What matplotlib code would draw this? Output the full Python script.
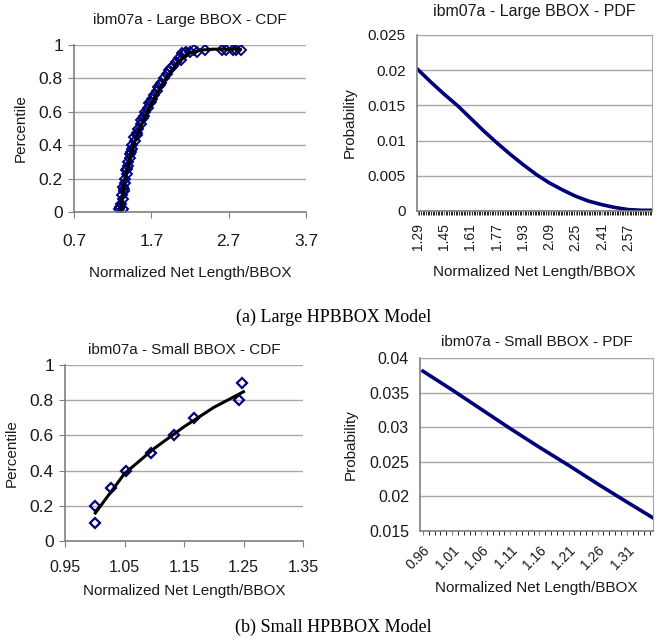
import numpy as np
import matplotlib
matplotlib.use('Agg')
import matplotlib.pyplot as plt
from matplotlib.ticker import FixedLocator, FixedFormatter

plt.rcParams['font.family'] = ['Liberation Sans', 'DejaVu Sans']

# --- (a) Large BBOX, CDF: measured points and fitted curve
large_cdf_x = [1.28, 1.33, 1.31, 1.33, 1.32, 1.35, 1.34, 1.36, 1.36, 1.38, 1.37, 1.40,
               1.40, 1.42, 1.42, 1.45, 1.45, 1.49, 1.48, 1.52, 1.53, 1.56, 1.57, 1.61,
               1.62, 1.66, 1.67, 1.71, 1.73, 1.77, 1.79, 1.83, 1.86, 1.90, 1.93, 1.98,
               2.02, 2.06, 2.10, 2.15, 2.20, 2.25, 2.40, 2.62, 2.67, 2.75, 2.80, 2.86,
               1.30, 1.35, 1.39, 1.44, 1.51, 1.59, 1.69, 1.81, 1.96, 2.08, 2.13, 2.29]
large_cdf_y = [0.02, 0.02, 0.05, 0.075, 0.10, 0.125, 0.15, 0.175, 0.20, 0.225, 0.25, 0.275,
               0.30, 0.325, 0.35, 0.375, 0.40, 0.425, 0.45, 0.475, 0.50, 0.525, 0.55, 0.575,
               0.60, 0.625, 0.65, 0.675, 0.70, 0.725, 0.75, 0.775, 0.80, 0.825, 0.85, 0.875,
               0.90, 0.925, 0.95, 0.96, 0.96, 0.97, 0.97, 0.97, 0.97, 0.97, 0.97, 0.97,
               0.03, 0.14, 0.26, 0.36, 0.46, 0.56, 0.66, 0.76, 0.86, 0.91, 0.95, 0.96]
large_fit_x = [1.30, 1.33, 1.36, 1.41, 1.47, 1.55, 1.65, 1.76, 1.89, 2.05, 2.18, 2.35, 2.50, 2.85]
large_fit_y = [0.00, 0.10, 0.20, 0.30, 0.40, 0.50, 0.60, 0.70, 0.80, 0.90, 0.95, 0.97, 0.975, 0.975]

# --- (a) Large BBOX, PDF
large_pdf_x = [1.29, 1.37, 1.45, 1.53, 1.61, 1.69, 1.77, 1.85, 1.93, 2.01, 2.09, 2.17,
               2.25, 2.33, 2.41, 2.49, 2.57, 2.65, 2.71]
large_pdf_y = [0.0201, 0.0183, 0.0166, 0.0150, 0.0132, 0.0114, 0.0097, 0.0081, 0.0066,
               0.0052, 0.0040, 0.0030, 0.0021, 0.0014, 0.0009, 0.0005, 0.0002, 0.0001, 0.0001]
large_pdf_labels = ['1.29', '1.45', '1.61', '1.77', '1.93', '2.09', '2.25', '2.41', '2.57']

# --- (b) Small BBOX, CDF
small_cdf_x = [1.000, 1.001, 1.028, 1.052, 1.095, 1.134, 1.167, 1.243, 1.248]
small_cdf_y = [0.1, 0.2, 0.3, 0.4, 0.5, 0.6, 0.7, 0.8, 0.9]
small_fit_x = [1.001, 1.05, 1.10, 1.15, 1.20, 1.25]
small_fit_y = [0.159, 0.383, 0.526, 0.649, 0.759, 0.848]

# --- (b) Small BBOX, PDF
small_pdf_x = [0.96, 1.01, 1.06, 1.11, 1.16, 1.21, 1.26, 1.31, 1.355]
small_pdf_y = [0.0381, 0.0354, 0.0326, 0.0298, 0.0271, 0.0245, 0.0218, 0.0192, 0.0169]
small_pdf_labels = ['0.96', '1.01', '1.06', '1.11', '1.16', '1.21', '1.26', '1.31']

W, H = 667, 644
fig = plt.figure(figsize=(W / 100, H / 100), dpi=100)


def px_axes(left, top, right, bottom):
    # axes from pixel box (origin top-left)
    return fig.add_axes([left / W, 1 - bottom / H, (right - left) / W, (bottom - top) / H])


def excel_style(ax, box=False):
    ax.set_facecolor('white')
    ax.yaxis.grid(True, color='#a8a8a8', linewidth=1)
    ax.set_axisbelow(True)
    for s in ['top', 'right']:
        ax.spines[s].set_visible(box)
        ax.spines[s].set_color('#a8a8a8')
    for s in ['left', 'bottom']:
        ax.spines[s].set_color('#808080')
        ax.spines[s].set_linewidth(1.2)
    ax.tick_params(color='#808080', direction='out', length=4, labelcolor='#1a1a1a')


navy = '#00007a'
txt = '#1a1a1a'

# (a) CDF
ax1 = px_axes(74, 45, 306, 212)
excel_style(ax1)
ax1.plot(large_cdf_x, large_cdf_y, linestyle='none', marker='D', markersize=5,
         markerfacecolor='none', markeredgecolor=navy, markeredgewidth=1.4)
ax1.plot(large_fit_x, large_fit_y, color='black', linewidth=2.2)
ax1.set_xlim(0.7, 3.7)
ax1.set_ylim(0, 1)
ax1.set_xticks([0.7, 1.7, 2.7, 3.7])
ax1.set_xticklabels(['0.7', '1.7', '2.7', '3.7'], fontsize=12.5)
ax1.set_yticks([0, 0.2, 0.4, 0.6, 0.8, 1.0])
ax1.set_yticklabels(['0', '0.2', '0.4', '0.6', '0.8', '1'], fontsize=12.5)
ax1.tick_params(axis='x', pad=12)
ax1.tick_params(axis='y', pad=4)
ax1.set_title('ibm07a - Large BBOX - CDF', fontsize=11, pad=15, color=txt)
ax1.set_xlabel('Normalized Net Length/BBOX', fontsize=11, labelpad=12, color=txt)
ax1.set_ylabel('Percentile', fontsize=11, labelpad=8, color=txt)

# (a) PDF
ax2 = px_axes(417, 35, 652, 211)
excel_style(ax2, box=True)
ax2.plot(large_pdf_x, large_pdf_y, color=navy, linewidth=2.6)
ax2.set_xlim(1.285, 2.715)
ax2.set_ylim(0, 0.025)
ax2.xaxis.set_major_locator(FixedLocator([float(s) for s in large_pdf_labels]))
ax2.xaxis.set_major_formatter(FixedFormatter(large_pdf_labels))
ax2.xaxis.set_minor_locator(FixedLocator(np.arange(1.29, 2.715, 0.01)))
ax2.tick_params(axis='x', which='both', length=3, labelsize=10, labelrotation=90, pad=6)
ax2.set_yticks([0, 0.005, 0.01, 0.015, 0.02, 0.025])
ax2.set_yticklabels(['0', '0.005', '0.01', '0.015', '0.02', '0.025'], fontsize=11)
ax2.tick_params(axis='y', length=0, pad=8)
ax2.set_title('ibm07a - Large BBOX - PDF', fontsize=11.5, pad=14, color=txt)
ax2.set_xlabel('Normalized Net Length/BBOX', fontsize=11, labelpad=10, color=txt)
ax2.set_ylabel('Probability', fontsize=11, labelpad=8, color=txt)

# (b) CDF
ax3 = px_axes(65, 365, 303, 541)
excel_style(ax3)
ax3.plot(small_cdf_x, small_cdf_y, linestyle='none', marker='D', markersize=5.5,
         markerfacecolor='none', markeredgecolor=navy, markeredgewidth=1.6)
ax3.plot(small_fit_x, small_fit_y, color='black', linewidth=2.2)
ax3.set_xlim(0.95, 1.35)
ax3.set_ylim(0, 1)
ax3.set_xticks([0.95, 1.05, 1.15, 1.25, 1.35])
ax3.set_xticklabels(['0.95', '1.05', '1.15', '1.25', '1.35'], fontsize=11.5)
ax3.set_yticks([0, 0.2, 0.4, 0.6, 0.8, 1.0])
ax3.set_yticklabels(['0', '0.2', '0.4', '0.6', '0.8', '1'], fontsize=12.5)
ax3.tick_params(axis='x', pad=10)
ax3.tick_params(axis='y', pad=4)
ax3.set_title('ibm07a - Small BBOX - CDF', fontsize=11, pad=8, color=txt)
ax3.set_xlabel('Normalized Net Length/BBOX', fontsize=11, labelpad=6, color=txt)
ax3.set_ylabel('Percentile', fontsize=11, labelpad=8, color=txt)

# (b) PDF
ax4 = px_axes(420, 358, 653, 531)
excel_style(ax4, box=True)
ax4.plot(small_pdf_x, small_pdf_y, color=navy, linewidth=2.6)
ax4.set_xlim(0.955, 1.355)
ax4.set_ylim(0.015, 0.04)
ax4.xaxis.set_major_locator(FixedLocator([float(s) for s in small_pdf_labels]))
ax4.xaxis.set_major_formatter(FixedFormatter(small_pdf_labels))
ax4.xaxis.set_minor_locator(FixedLocator(np.arange(0.96, 1.355, 0.01)))
ax4.tick_params(axis='x', which='both', length=3, labelsize=10, pad=6)
for lab in ax4.get_xticklabels():
    lab.set_rotation(45)
    lab.set_ha('right')
    lab.set_rotation_mode('anchor')
ax4.set_yticks([0.015, 0.02, 0.025, 0.03, 0.035, 0.04])
ax4.set_yticklabels(['0.015', '0.02', '0.025', '0.03', '0.035', '0.04'], fontsize=11.5)
ax4.tick_params(axis='y', length=0, pad=8)
ax4.set_title('ibm07a - Small BBOX - PDF', fontsize=11, pad=9, color=txt)
ax4.set_xlabel('Normalized Net Length/BBOX', fontsize=11, labelpad=6, color=txt)
ax4.set_ylabel('Probability', fontsize=11, labelpad=8, color=txt)

# sub-captions
fig.text(0.5, 1 - 317 / H, '(a) Large HPBBOX Model', ha='center', va='center',
         fontsize=13, family='Liberation Serif')
fig.text(0.5, 1 - 627 / H, '(b) Small HPBBOX Model', ha='center', va='center',
         fontsize=13, family='Liberation Serif')

fig.savefig('out.png', dpi=100)
